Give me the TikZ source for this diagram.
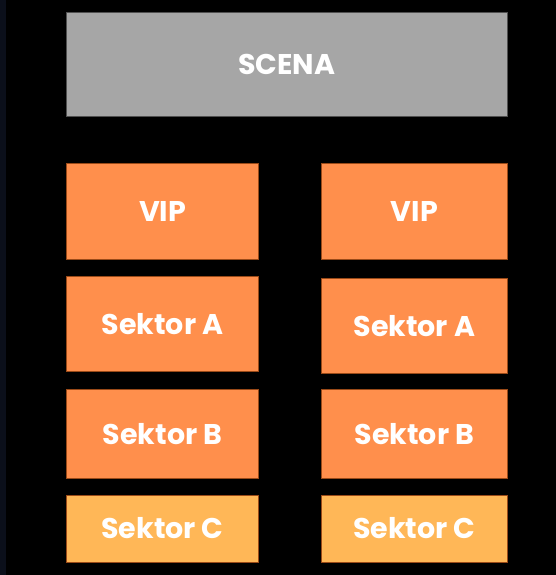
\documentclass[tikz,border=0pt]{standalone}
\usepackage{fontspec}
\setmainfont{Poppins}
\usepackage{tikz}

\definecolor{stagegray}{HTML}{A6A6A6}
\definecolor{stageedge}{HTML}{505050}
\definecolor{seatorange}{HTML}{FF8F4C}
\definecolor{seatlight}{HTML}{FFB757}
\definecolor{seatedge}{HTML}{9A4A18}
\definecolor{sidestrip}{HTML}{0B0F1A}

\tikzset{
  sector/.style={draw=seatedge, line width=0.6pt, fill=seatorange, text=white,
    font=\bfseries\fontsize{28.5}{31}\selectfont, inner sep=0pt},
  sectorc/.style={sector, fill=seatlight},
  stage/.style={draw=stageedge, line width=0.6pt, fill=stagegray, text=white,
    font=\bfseries\fontsize{28.5}{31}\selectfont, inner sep=0pt}
}

\begin{document}
\begin{tikzpicture}[x=1pt,y=-1pt]
  % background
  \fill[black] (0,0) rectangle (556,575);
  \fill[sidestrip] (0,0) rectangle (6,575);
  \useasboundingbox (0,0) rectangle (556,575);

  % stage
  \node[stage, minimum width=440.3pt, minimum height=103.3pt] (scena) at (286.85,64.35) {SCENA};

  % left column
  \node[sector, minimum width=191.6pt, minimum height=95.7pt] (vipL) at (162.5,211.15) {VIP};
  \node[sector, minimum width=191.6pt, minimum height=95pt] (aL) at (162.5,324.2) {Sektor A};
  \node[sector, minimum width=191.6pt, minimum height=89pt] (bL) at (162.5,433.8) {Sektor B};
  \node[sectorc, minimum width=191.6pt, minimum height=67pt] (cL) at (162.5,528.5) {Sektor C};

  % right column
  \node[sector, minimum width=185.3pt, minimum height=95.7pt] (vipR) at (414.35,211.15) {VIP};
  \node[sector, minimum width=185.3pt, minimum height=95pt] (aR) at (414.35,325.8) {Sektor A};
  \node[sector, minimum width=185.3pt, minimum height=89pt] (bR) at (414.35,433.8) {Sektor B};
  \node[sectorc, minimum width=185.3pt, minimum height=67pt] (cR) at (414.35,528.5) {Sektor C};
\end{tikzpicture}
\end{document}
